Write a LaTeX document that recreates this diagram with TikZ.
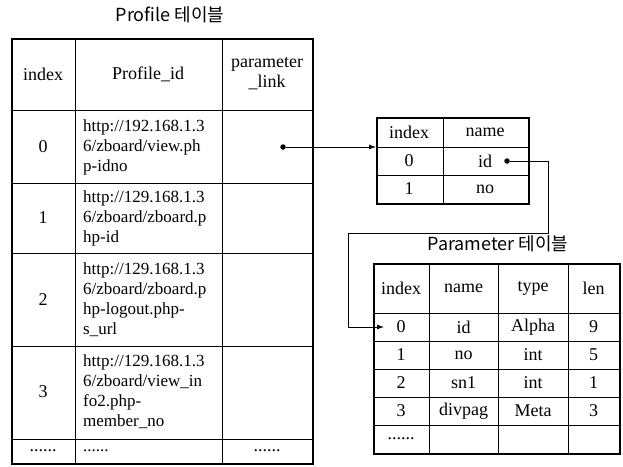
\documentclass[tikz,border=0pt]{standalone}
\usepackage{fontspec}
\setmainfont{Liberation Serif}
\newfontfamily\krfont{Noto Sans CJK KR}
\usetikzlibrary{arrows.meta, positioning, calc}
\tikzset{
  cell/.style   ={font=\fontsize{18}{20}\selectfont, inner sep=0pt, align=center},
  urlcell/.style={cell, font=\fontsize{17}{20}\selectfont, anchor=west, align=left},
  frame/.style  ={draw, line width=2.4pt, inner sep=0pt, anchor=north west},
  rule/.style   ={draw, line width=0.8pt},
  title/.style  ={font=\krfont\fontsize{18}{20}\selectfont, inner sep=0pt},
  linkdot/.style={circle, fill, inner sep=0pt, minimum size=5.5pt},
  link/.style   ={-{Latex[length=7pt,width=5pt]}, line width=0.8pt}
}
\begin{document}
\begin{tikzpicture}[x=1pt, y=-1pt]
  \useasboundingbox (0,0) rectangle (623,466);

  % Profile table
  \node[title] (proftitle) at (170,15) {Profile 테이블};
  \foreach \x in {75,222} \draw[rule] (\x,38) -- (\x,463);
  \foreach \y in {110,183,253,346,439} \draw[rule] (11,\y) -- (312,\y);
  \node[frame, minimum width=301, minimum height=425] (prof) at (11,38) {};

  \node[cell] (ph1) at (43,74)  {index};
  \node[cell] (ph2) at (148,74) {Profile\_id};
  \node[cell] (ph3) at (267,74) {parameter\\\_link};

  \node[cell]    (pi0) at (43,147) {0};
  \node[urlcell] (pu0) at (83,147) {http://192.168.1.3\\6/zboard/view.ph\\p-idno};
  \node[cell]    (pi1) at (43,218) {1};
  \node[urlcell] (pu1) at (83,218) {http://129.168.1.3\\6/zboard/zboard.p\\hp-id};
  \node[cell]    (pi2) at (43,300) {2};
  \node[urlcell] (pu2) at (83,300) {http://129.168.1.3\\6/zboard/zboard.p\\hp-logout.php-\\s\_url};
  \node[cell]    (pi3) at (43,392) {3};
  \node[urlcell] (pu3) at (83,392) {http://129.168.1.3\\6/zboard/view\_in\\fo2.php-\\member\_no};
  \node[cell]    (pi4) at (43,451)  {......};
  \node[urlcell] (pu4) at (83,451)  {......};
  \node[cell]    (pl4) at (267,451) {......};

  \node[linkdot] (plink) at (283,147) {};

  % link table
  \draw[rule] (443,117) -- (443,203);
  \foreach \y in {147,175} \draw[rule] (376,\y) -- (528,\y);
  \node[frame, minimum width=152, minimum height=86] (ltab) at (376,117) {};

  \node[cell] (lh1) at (409,132) {index};
  \node[cell] (lh2) at (485,132) {name};
  \node[cell] (li0) at (409,161) {0};
  \node[cell] (ln0) at (485,161) {id};
  \node[cell] (li1) at (409,189) {1};
  \node[cell] (ln1) at (485,189) {no};

  \node[linkdot] (idlink) at (507,161) {};

  % Parameter table
  \node[title] (partitle) at (498,244) {Parameter 테이블};
  \foreach \x in {429,498,568} \draw[rule] (\x,263) -- (\x,453);
  \foreach \y in {313,341,369,397,425} \draw[rule] (373,\y) -- (619,\y);
  \node[frame, minimum width=246, minimum height=190] (ptab) at (373,263) {};

  \node[cell] (qh1) at (401,288)   {index};
  \node[cell] (qh2) at (463.5,288) {name};
  \node[cell] (qh3) at (533,288)   {type};
  \node[cell] (qh4) at (593.5,288) {len};
  \foreach \i/\n/\t/\l [count=\r from 0] in {0/id/Alpha/9, 1/no/int/5, 2/sn1/int/1, 3/divpag/Meta/3}{
    \node[cell] (qi\r) at (401,327+28*\r)   {\i};
    \node[cell] (qn\r) at (463.5,327+28*\r) {\n};
    \node[cell] (qt\r) at (533,327+28*\r)   {\t};
    \node[cell] (ql\r) at (593.5,327+28*\r) {\l};
  }
  \node[cell] (qi4) at (401,439) {......};

  % links
  \coordinate (bendr) at (548,233);
  \coordinate (bendl) at (348,327);
  \coordinate (tip)   at (384,327);
  \draw[link] (plink) -- (plink -| ltab.west);
  \draw[link] (idlink) -| (bendr) -| (bendl) -- (tip);
\end{tikzpicture}
\end{document}
